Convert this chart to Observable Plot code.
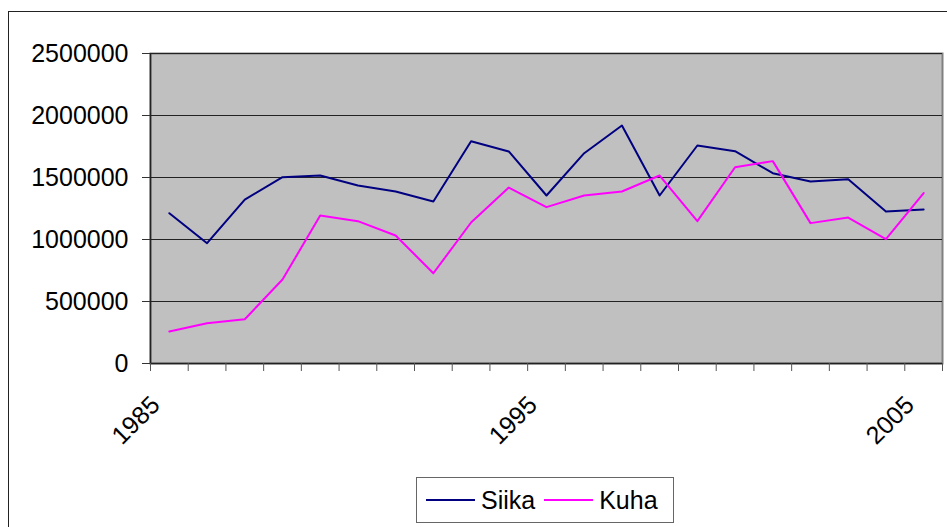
<!DOCTYPE html>
<html>
<head>
<meta charset="utf-8">
<script src="https://cdn.jsdelivr.net/npm/d3@7"></script>
<script src="https://cdn.jsdelivr.net/npm/@observablehq/plot@0.6"></script>
<style>
  html, body { margin: 0; padding: 0; background: #fff; }
  body { width: 947px; height: 527px; overflow: hidden; position: relative; font-family: "Liberation Sans", Arial, sans-serif; }
  #chart { position: absolute; left: 0; top: 0; }
  #outer { position: absolute; left: 8px; top: 11px; width: 1000px; height: 600px; border: 1.5px solid #222; pointer-events: none; }
  #legend { position: absolute; left: 416px; top: 477px; width: 256px; height: 44px; border: 1.5px solid #666; display: flex; align-items: center; font-size: 25px; color: #000; box-sizing: content-box; }
  .sw { display: inline-block; width: 49px; height: 2px; margin-left: 9px; margin-right: 6px; }
</style>
</head>
<body>
<div id="chart"></div>
<div id="legend"></div>
<div id="outer"></div>
<script>
const years = [1985,1986,1987,1988,1989,1990,1991,1992,1993,1994,1995,1996,1997,1998,1999,2000,2001,2002,2003,2004,2005];
const siika = [1212000, 970000, 1322000, 1503000, 1516000, 1435000, 1387000, 1306000, 1793000, 1710000, 1355000, 1696000, 1919000, 1355000, 1758000, 1712000, 1535000, 1468000, 1486000, 1226000, 1242000];
const kuha = [258000, 325000, 357000, 677000, 1194000, 1148000, 1032000, 728000, 1137000, 1419000, 1261000, 1355000, 1387000, 1516000, 1148000, 1583000, 1632000, 1132000, 1177000, 1003000, 1374000];
const seriesNames = ["Siika", "Kuha"];
const seriesColors = ["#000080", "#FF00FF"];
const yTicks = [0, 500000, 1000000, 1500000, 2000000, 2500000];
const xLabels = [1985, 1995, 2005];

const boundaries = d3.range(years.length + 1).map(i => years[0] - 0.5 + i);
const rows = [];
years.forEach((y, i) => {
  rows.push({year: y, value: siika[i], series: "Siika"});
  rows.push({year: y, value: kuha[i], series: "Kuha"});
});

const font = "Liberation Sans, Arial, sans-serif";
const chart = Plot.plot({
  width: 947,
  height: 470,
  marginLeft: 150,
  marginRight: 5,
  marginTop: 53,
  marginBottom: 107,
  style: {background: "transparent", fontFamily: font, fontSize: "25px", color: "#000"},
  x: {type: "linear", domain: [boundaries[0], boundaries[boundaries.length - 1]]},
  y: {domain: [0, 2500000]},
  color: {domain: seriesNames, range: seriesColors},
  marks: [
    Plot.frame({fill: "#C0C0C0", stroke: "#808080", strokeWidth: 2}),
    Plot.ruleY(yTicks, {stroke: "#222", strokeWidth: 1}),
    Plot.line(rows, {x: "year", y: "value", z: "series", stroke: "series", strokeWidth: 2}),
    Plot.ruleX([boundaries[0]], {stroke: "#222", strokeWidth: 1.5}),
    Plot.ruleY([0], {stroke: "#222", strokeWidth: 1.5}),
    Plot.axisY({ticks: yTicks, tickSize: 8, tickPadding: 14, tickFormat: d => String(d), fontSize: 25, stroke: "#333", fill: "#000", label: null}),
    Plot.axisX({ticks: boundaries, tickSize: 8, tickFormat: () => "", stroke: "#555", label: null}),
    Plot.text(xLabels, {x: d => d, frameAnchor: "bottom", text: d => String(d), rotate: -45, textAnchor: "end", lineAnchor: "bottom", dx: -8, dy: 43, fontSize: 25, fill: "#000"})
  ]
});
document.getElementById("chart").appendChild(chart);

const legend = document.getElementById("legend");
seriesNames.forEach((name, i) => {
  const sw = document.createElement("span");
  sw.className = "sw";
  sw.style.background = seriesColors[i];
  const t = document.createElement("span");
  t.textContent = name;
  legend.appendChild(sw);
  legend.appendChild(t);
});
</script>
</body>
</html>
